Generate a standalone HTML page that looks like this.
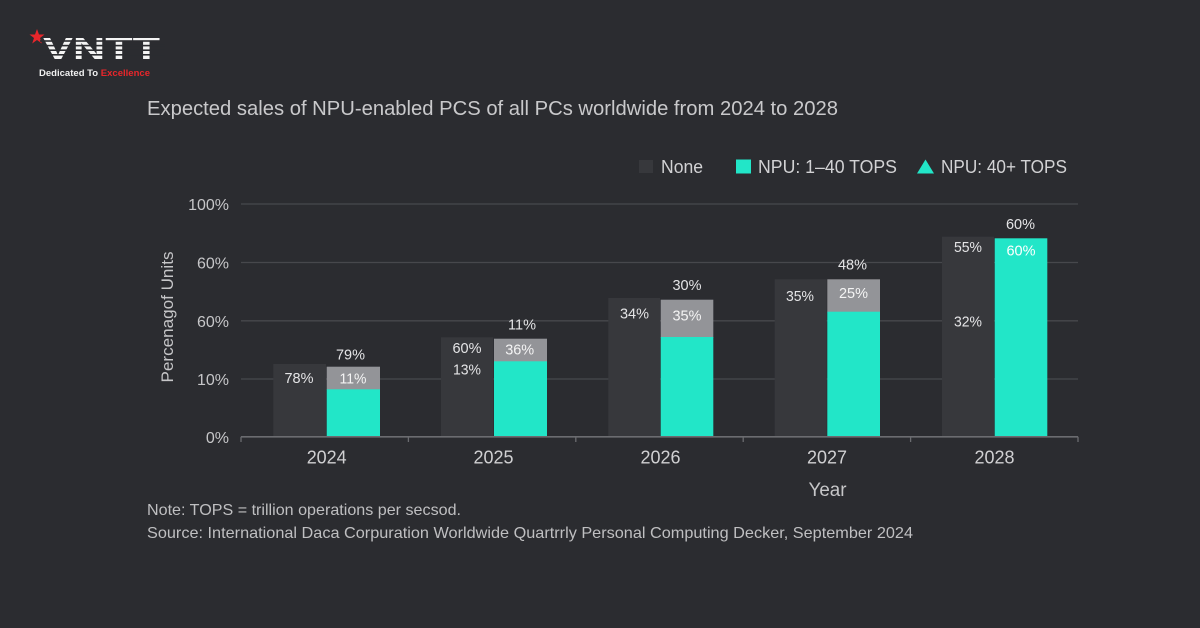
<!DOCTYPE html>
<html><head><meta charset="utf-8"><style>
html,body{margin:0;padding:0;background:#2b2c30;}
svg{display:block;}
text{font-family:"Liberation Sans",sans-serif;}
</style></head><body>
<svg width="1200" height="628" viewBox="0 0 1200 628" xmlns="http://www.w3.org/2000/svg">
<rect width="1200" height="628" fill="#2b2c30"/>
<!-- Logo -->
<polygon points="37,29 39,34.5 44.5,34.5 40,38 41.8,43.5 37,40 32.2,43.5 34,38 29.5,34.5 35,34.5" fill="#e8262b"/>
<text x="43" y="59" font-size="31" font-weight="bold" fill="#f4f4f4" textLength="117" lengthAdjust="spacingAndGlyphs">VNTT</text>
<g fill="#2b2c30">
<rect x="40" y="40.2" width="125" height="1.6"/>
<rect x="40" y="44.8" width="125" height="1.6"/>
<rect x="40" y="49.4" width="125" height="1.6"/>
<rect x="40" y="54" width="125" height="1.6"/>
</g>
<text x="39" y="76" font-size="9.5" font-weight="bold" fill="#f0f0f0" textLength="111" lengthAdjust="spacingAndGlyphs">Dedicated To <tspan fill="#e8262b">Excellence</tspan></text>
<!-- Title -->
<text x="147" y="115" font-size="20" fill="#c9c9cb" textLength="691" lengthAdjust="spacingAndGlyphs">Expected sales of NPU-enabled PCS of all PCs worldwide from 2024 to 2028</text>
<!-- Legend -->
<rect x="639" y="160" width="14" height="13" fill="#37383c"/>
<text x="661" y="173" font-size="18" fill="#d2d2d4" textLength="42" lengthAdjust="spacingAndGlyphs">None</text>
<rect x="736" y="159.5" width="15" height="14" fill="#22e6c8"/>
<text x="758" y="173" font-size="18" fill="#d2d2d4" textLength="139" lengthAdjust="spacingAndGlyphs">NPU: 1–40 TOPS</text>
<polygon points="917,173.5 925.5,159.5 934,173.5" fill="#22e6c8"/>
<text x="941" y="173" font-size="18" fill="#d2d2d4" textLength="126" lengthAdjust="spacingAndGlyphs">NPU: 40+ TOPS</text>
<!-- Grid -->
<g stroke="#47484c" stroke-width="1.3">
<line x1="241" y1="204" x2="1078" y2="204"/>
<line x1="241" y1="262.5" x2="1078" y2="262.5"/>
<line x1="241" y1="320.8" x2="1078" y2="320.8"/>
<line x1="241" y1="379" x2="1078" y2="379"/>
</g>
<!-- Y tick labels -->
<g font-size="16" fill="#c6c6c8" text-anchor="end">
<text x="229" y="210">100%</text>
<text x="229" y="268.5">60%</text>
<text x="229" y="326.8">60%</text>
<text x="229" y="385">10%</text>
<text x="229" y="443">0%</text>
</g>
<text transform="translate(173,317) rotate(-90)" font-size="17" fill="#c6c6c8" text-anchor="middle" textLength="131" lengthAdjust="spacingAndGlyphs">Percenagof Units</text>
<!-- Bars -->
<g fill="#37383c">
<rect x="273.3" y="364" width="52.7" height="72.8"/>
<rect x="441" y="337.3" width="52.3" height="99.5"/>
<rect x="608.3" y="298" width="51.7" height="138.8"/>
<rect x="774.7" y="279.3" width="52" height="157.5"/>
<rect x="942" y="236.7" width="52" height="200.1"/>
</g>
<g fill="#939498">
<rect x="326.7" y="366.7" width="53.3" height="23"/>
<rect x="494" y="338.7" width="53" height="23"/>
<rect x="660.7" y="299.7" width="52.6" height="38"/>
<rect x="827.3" y="279.3" width="52.7" height="33"/>
</g>
<g fill="#22e6c8">
<rect x="326.7" y="389.3" width="53.3" height="47.5"/>
<rect x="494" y="361.3" width="53" height="75.5"/>
<rect x="660.7" y="337" width="52.6" height="99.8"/>
<rect x="827.3" y="311.7" width="52.7" height="125.1"/>
<rect x="994.7" y="238.3" width="52.6" height="198.5"/>
</g>
<!-- Baseline -->
<line x1="241" y1="436.8" x2="1078" y2="436.8" stroke="#6b6c70" stroke-width="1.6"/>
<g stroke="#6b6c70" stroke-width="1.3">
<line x1="241" y1="436.8" x2="241" y2="442"/>
<line x1="408.4" y1="436.8" x2="408.4" y2="442"/>
<line x1="575.8" y1="436.8" x2="575.8" y2="442"/>
<line x1="743.2" y1="436.8" x2="743.2" y2="442"/>
<line x1="910.6" y1="436.8" x2="910.6" y2="442"/>
<line x1="1078" y1="436.8" x2="1078" y2="442"/>
</g>
<!-- Data labels -->
<g font-size="15" fill="#e4e4e6" text-anchor="middle">
<text x="299" y="383" textLength="29" lengthAdjust="spacingAndGlyphs">78%</text>
<text x="350.5" y="359.5" textLength="29" lengthAdjust="spacingAndGlyphs">79%</text>
<text x="353" y="383.5" textLength="27" lengthAdjust="spacingAndGlyphs" fill="#f4f4f4">11%</text>
<text x="522" y="329.5" textLength="28" lengthAdjust="spacingAndGlyphs">11%</text>
<text x="467" y="353" textLength="29" lengthAdjust="spacingAndGlyphs">60%</text>
<text x="467" y="374.5" textLength="28" lengthAdjust="spacingAndGlyphs">13%</text>
<text x="519.7" y="354.5" textLength="29" lengthAdjust="spacingAndGlyphs" fill="#f4f4f4">36%</text>
<text x="634.5" y="318.5" textLength="29" lengthAdjust="spacingAndGlyphs">34%</text>
<text x="687" y="290" textLength="29" lengthAdjust="spacingAndGlyphs">30%</text>
<text x="687" y="320.5" textLength="29" lengthAdjust="spacingAndGlyphs" fill="#f4f4f4">35%</text>
<text x="800" y="301" textLength="28" lengthAdjust="spacingAndGlyphs">35%</text>
<text x="852.5" y="269.5" textLength="29" lengthAdjust="spacingAndGlyphs">48%</text>
<text x="853.5" y="298" textLength="29" lengthAdjust="spacingAndGlyphs" fill="#f4f4f4">25%</text>
<text x="968" y="252" textLength="28" lengthAdjust="spacingAndGlyphs">55%</text>
<text x="1020.5" y="229" textLength="29" lengthAdjust="spacingAndGlyphs">60%</text>
<text x="1021" y="255.5" textLength="29" lengthAdjust="spacingAndGlyphs" fill="#ffffff">60%</text>
<text x="968" y="326.5" textLength="28" lengthAdjust="spacingAndGlyphs">32%</text>
</g>
<!-- Year labels -->
<g font-size="18" fill="#d0d0d2" text-anchor="middle">
<text x="326.7" y="463.5" textLength="40" lengthAdjust="spacingAndGlyphs">2024</text>
<text x="493.5" y="463.5" textLength="40" lengthAdjust="spacingAndGlyphs">2025</text>
<text x="660.5" y="463.5" textLength="40" lengthAdjust="spacingAndGlyphs">2026</text>
<text x="827" y="463.5" textLength="40" lengthAdjust="spacingAndGlyphs">2027</text>
<text x="994.5" y="463.5" textLength="40" lengthAdjust="spacingAndGlyphs">2028</text>
</g>
<text x="827.5" y="496" font-size="19" fill="#c6c6c8" text-anchor="middle" textLength="38" lengthAdjust="spacingAndGlyphs">Year</text>
<!-- Notes -->
<text x="147" y="515" font-size="16" fill="#bfbfc1" textLength="314" lengthAdjust="spacingAndGlyphs">Note: TOPS = trillion operations per secsod.</text>
<text x="147" y="538" font-size="16" fill="#bfbfc1" textLength="766" lengthAdjust="spacingAndGlyphs">Source: International Daca Corpuration Worldwide Quartrrly Personal Computing Decker, September 2024</text>
</svg>
</body></html>
